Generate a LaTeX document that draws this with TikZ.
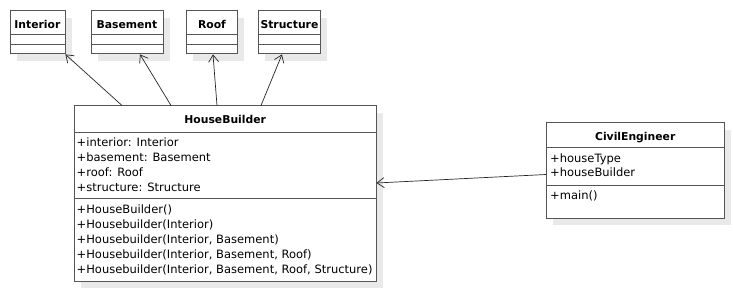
\documentclass[tikz,border=0pt]{standalone}
\usepackage{fontspec}
\setmainfont{DejaVu Sans}
\usetikzlibrary{shadows,arrows.meta}
\definecolor{boxline}{HTML}{555555}
\definecolor{shade}{HTML}{E9E9E9}
\tikzset{
  cls/.style={draw=boxline, line width=0.9pt, fill=white, anchor=north west, inner sep=0pt,
    general shadow={fill=shade, shadow xshift=7pt, shadow yshift=-7pt}},
  sep/.style={draw=boxline, line width=0.9pt},
  title/.style={font=\fontsize{10.8}{13}\selectfont\bfseries, inner sep=0pt, anchor=base},
  member/.style={font=\fontsize{11.5}{13}\selectfont, inner sep=0pt, anchor=base west},
  assoc/.style={draw=black!85, line width=0.7pt, -{Straight Barb[length=7pt,width=10pt,line width=0.7pt]}}
}
\begin{document}
\begin{tikzpicture}[x=1pt,y=-1pt]
\useasboundingbox[fill=white] (0,0) rectangle (733,291);

% --- part classes along the top ---
\node[cls, minimum width=55pt, minimum height=43pt] (interior) at (9.5,10.5) {};
\node[cls, minimum width=72pt, minimum height=43pt] (basement) at (90.5,10.5) {};
\node[cls, minimum width=51pt, minimum height=43pt] (roof) at (186,10.5) {};
\node[cls, minimum width=62pt, minimum height=43pt] (structure) at (258,10.5) {};
\foreach \c in {interior,basement,roof,structure}{
  \draw[sep] ([yshift=-24pt]\c.north west) -- ([yshift=-24pt]\c.north east);
  \draw[sep] ([yshift=-33.5pt]\c.north west) -- ([yshift=-33.5pt]\c.north east);
}
\node[title] (interior-t) at ([yshift=-18pt]interior.north) {Interior};
\node[title] (basement-t) at ([yshift=-18pt]basement.north) {Basement};
\node[title] (roof-t) at ([yshift=-18pt]roof.north) {Roof};
\node[title] (structure-t) at ([yshift=-18pt]structure.north) {Structure};

% --- HouseBuilder ---
\node[cls, minimum width=302.5pt, minimum height=175.5pt] (hb) at (73.5,105.5) {};
\draw[sep] ([yshift=-27pt]hb.north west) -- ([yshift=-27pt]hb.north east);
\draw[sep] ([yshift=-93pt]hb.north west) -- ([yshift=-93pt]hb.north east);
\node[title] (hb-t) at ([yshift=-18pt]hb.north) {HouseBuilder};
\node[member] (hb-a1) at (76.5,146.5) {+interior: Interior};
\node[member] (hb-a2) at (76.5,161.5) {+basement: Basement};
\node[member] (hb-a3) at (76.5,176.5) {+roof: Roof};
\node[member] (hb-a4) at (76.5,191.5) {+structure: Structure};
\node[member] (hb-m1) at (76.5,213) {+HouseBuilder()};
\node[member] (hb-m2) at (76.5,228) {+Housebuilder(Interior)};
\node[member] (hb-m3) at (76.5,243) {+Housebuilder(Interior, Basement)};
\node[member] (hb-m4) at (76.5,258) {+Housebuilder(Interior, Basement, Roof)};
\node[member] (hb-m5) at (76.5,273) {+Housebuilder(Interior, Basement, Roof, Structure)};

% --- CivilEngineer ---
\node[cls, minimum width=177.5pt, minimum height=95.5pt] (ce) at (546,122.5) {};
\draw[sep] ([yshift=-25pt]ce.north west) -- ([yshift=-25pt]ce.north east);
\draw[sep] ([yshift=-62.5pt]ce.north west) -- ([yshift=-62.5pt]ce.north east);
\node[title] (ce-t) at ([yshift=-18pt]ce.north) {CivilEngineer};
\node[member] (ce-a1) at (550,162.5) {+houseType};
\node[member] (ce-a2) at (550,177) {+houseBuilder};
\node[member] (ce-m1) at (550,200) {+main()};

% --- associations ---
\coordinate (hb-p1) at (122,105.5);
\coordinate (hb-p2) at (171,105.5);
\coordinate (hb-p3) at (217,105.5);
\coordinate (hb-p4) at (261,105.5);
\draw[assoc] (hb-p1) -- (interior.south east);
\draw[assoc] (hb-p2) -- (basement.south -| 140,0);
\draw[assoc] (hb-p3) -- (roof.south -| 213,0);
\draw[assoc] (hb-p4) -- (structure.south -| 282,0);
\coordinate (ce-p) at (546,174.5);
\coordinate (hb-p) at (376.5,183);
\draw[assoc] (ce-p) -- (hb-p);
\end{tikzpicture}
\end{document}
